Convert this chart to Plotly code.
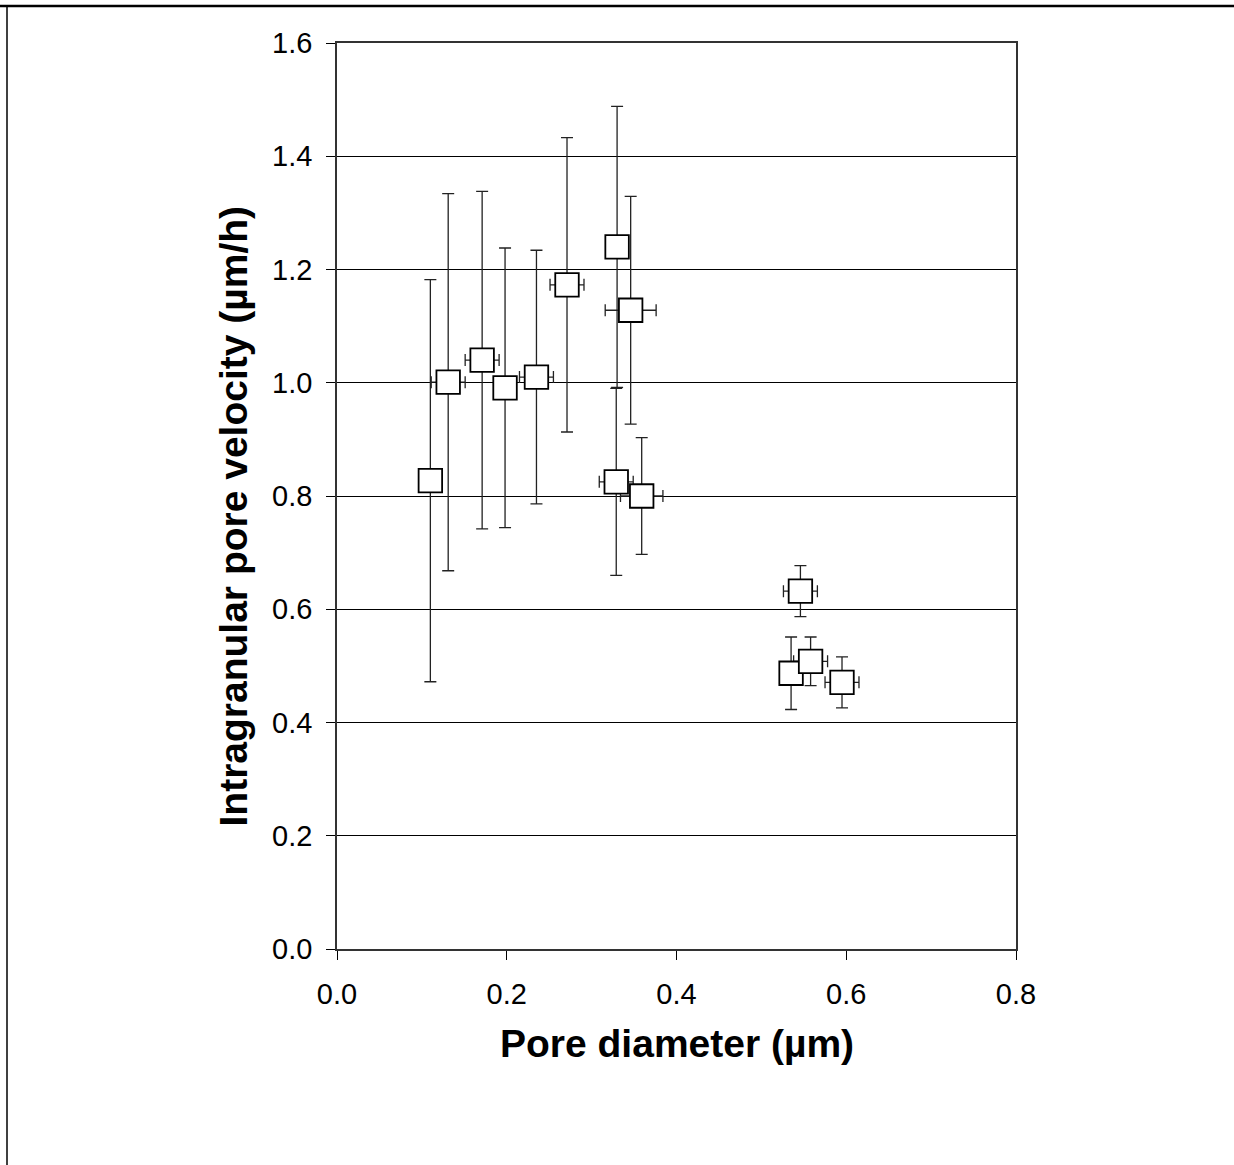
import plotly.graph_objects as go

# Data
pore_diameter = [0.110, 0.131, 0.171, 0.198, 0.235, 0.271, 0.330, 0.329, 0.346, 0.359, 0.546, 0.535, 0.558, 0.595]
pore_velocity = [0.827, 1.001, 1.040, 0.991, 1.010, 1.173, 1.240, 0.825, 1.128, 0.800, 0.632, 0.487, 0.508, 0.471]
velocity_err = [0.355, 0.333, 0.298, 0.247, 0.224, 0.260, 0.248, 0.165, 0.201, 0.103, 0.045, 0.064, 0.043, 0.045]
diameter_err = [0.000, 0.020, 0.020, 0.010, 0.020, 0.020, 0.010, 0.020, 0.030, 0.025, 0.020, 0.010, 0.020, 0.020]

x_ticks = [0.0, 0.2, 0.4, 0.6, 0.8]
x_tick_labels = ["0.0", "0.2", "0.4", "0.6", "0.8"]
y_ticks = [0.0, 0.2, 0.4, 0.6, 0.8, 1.0, 1.2, 1.4, 1.6]
y_tick_labels = ["0.0", "0.2", "0.4", "0.6", "0.8", "1.0", "1.2", "1.4", "1.6"]

x_title = "Pore diameter (µm)"
y_title = "Intragranular pore velocity (µm/h)"

W, H = 1234, 1165
L, R, T, B = 337, 1016, 43, 949

fig = go.Figure()
fig.add_trace(go.Scatter(
    x=pore_diameter, y=pore_velocity, mode="markers",
    marker=dict(symbol="square", size=23.5, color="white",
                line=dict(color="black", width=1.8)),
    error_y=dict(type="data", array=velocity_err, visible=True,
                 color="#222222", thickness=1.3, width=6),
    error_x=dict(type="data", array=diameter_err, visible=True,
                 color="#222222", thickness=1.3, width=6),
    showlegend=False, hoverinfo="x+y",
))

pw, ph = R - L, B - T

def px_to_paper_x(px):
    return (px - L) / pw

def px_to_paper_y(py):
    return (B - py) / ph

font_family = "Liberation Sans, Arial, sans-serif"

fig.update_layout(
    width=W, height=H,
    margin=dict(l=L, r=W - R, t=T, b=H - B, pad=0),
    paper_bgcolor="white", plot_bgcolor="white",
    font=dict(family=font_family, color="black", size=29),
    xaxis=dict(
        range=[0, 0.8], tickvals=x_ticks, ticktext=x_tick_labels,
        ticks="outside", ticklen=9, tickwidth=1.3, tickcolor="black",
        showline=True, linecolor="#333333", linewidth=1.5, mirror=True,
        showgrid=False, zeroline=False,
        tickfont=dict(size=29, family=font_family),
        ticklabelstandoff=9,
        fixedrange=True,
    ),
    yaxis=dict(
        range=[0, 1.6], tickvals=y_ticks, ticktext=y_tick_labels,
        ticks="outside", ticklen=9, tickwidth=1.3, tickcolor="black",
        showline=True, linecolor="#333333", linewidth=1.5, mirror=True,
        showgrid=True, gridcolor="black", gridwidth=1.3, zeroline=False,
        tickfont=dict(size=29, family=font_family),
        ticklabelstandoff=8,
        fixedrange=True,
    ),
    annotations=[
        dict(text="<b>" + x_title + "</b>", xref="paper", yref="paper",
             x=px_to_paper_x(676.5), y=px_to_paper_y(1043),
             xanchor="center", yanchor="middle", showarrow=False,
             font=dict(size=39, family=font_family, color="black")),
        dict(text="<b>" + y_title + "</b>", xref="paper", yref="paper",
             x=px_to_paper_x(233), y=px_to_paper_y(516.5), textangle=-90,
             xanchor="center", yanchor="middle", showarrow=False,
             font=dict(size=39, family=font_family, color="black")),
    ],
    shapes=[
        dict(type="line", xref="paper", yref="paper",
             x0=px_to_paper_x(0), x1=px_to_paper_x(W),
             y0=px_to_paper_y(6), y1=px_to_paper_y(6),
             line=dict(color="black", width=2.5)),
        dict(type="line", xref="paper", yref="paper",
             x0=px_to_paper_x(7), x1=px_to_paper_x(7),
             y0=px_to_paper_y(6), y1=px_to_paper_y(H),
             line=dict(color="black", width=1.5)),
    ],
)

fig.write_html("out.html", config={"displayModeBar": False},
               post_script="document.body.style.margin='0';document.body.style.padding='0';")
